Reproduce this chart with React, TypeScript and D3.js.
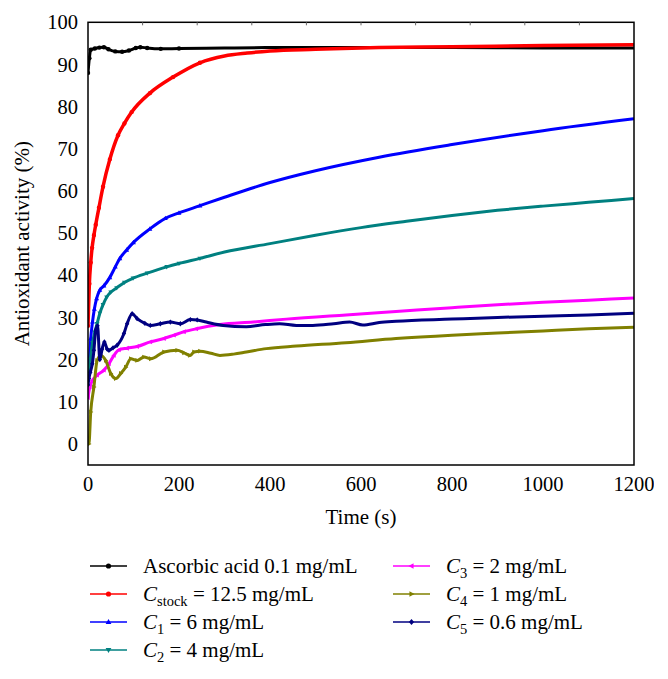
import React from "react";
import * as d3 from "d3";

// ---- data (time in s, antioxidant activity in %) ----
const ascorbicT = [0, 3, 6, 15, 25, 35, 45, 60, 75, 90, 105, 115, 130, 160, 200, 300, 400, 600, 800, 1000, 1200];
const ascorbicV = [88, 91.5, 93.5, 93.8, 94.0, 94.1, 93.6, 93.1, 93.0, 93.3, 93.9, 94.1, 93.9, 93.7, 93.8, 93.9, 94.0, 94.0, 94.0, 93.9, 93.9];

const stockT = [0, 3, 6, 9, 13, 17, 24, 33, 48, 66, 80, 96, 136, 187, 246, 300, 350, 400, 500, 640, 800, 1000, 1200];
const stockV = [28, 38, 43, 46.5, 49.5, 52, 56, 61, 67.5, 73.2, 76, 78.7, 83.2, 87, 90.4, 92, 92.7, 93.2, 93.6, 94.0, 94.2, 94.5, 94.7];

const c1T = [0, 3, 6, 10, 14, 19, 26, 35, 48, 60, 70, 85, 100, 136, 170, 200, 246, 300, 400, 500, 640, 800, 1000, 1200];
const c1V = [17, 20, 25, 29, 32, 34.5, 36.5, 37.5, 39.5, 42, 44, 46, 47.8, 51, 53.5, 54.8, 56.5, 58.5, 62, 64.8, 68, 71, 74.3, 77.1];

const c2T = [0, 5, 10, 15, 20, 26, 33, 41, 50, 63, 80, 99, 130, 173, 200, 246, 300, 400, 500, 600, 700, 800, 900, 1000, 1100, 1200];
const c2V = [16, 20, 24, 26.5, 28.5, 31, 33, 34.8, 36, 37, 38.3, 39.3, 40.5, 42, 42.8, 44, 45.5, 47.5, 49.5, 51.3, 52.8, 54.2, 55.4, 56.4, 57.3, 58.2];

const c3T = [0, 4, 9.5, 20, 35, 46, 57, 68, 86, 108, 137, 167, 189, 211, 238, 290, 363, 436, 567, 677, 800, 900, 1000, 1100, 1200];
const c3V = [11, 13.5, 15, 16.3, 17.5, 19, 21, 22.3, 22.7, 23.1, 24.2, 25, 25.8, 26.6, 27.3, 28.3, 28.9, 29.6, 30.6, 31.4, 32.3, 33, 33.6, 34.1, 34.6];

const c4T = [0, 2, 6, 13, 20, 28, 39, 50, 61, 72, 83, 94, 108, 123, 138, 167, 196, 211, 224, 233, 246, 270, 290, 320, 348, 392, 458, 567, 677, 800, 900, 1000, 1100, 1200];
const c4V = [0, 0, 7.6, 13.5, 19.8, 21, 19.8, 16.7, 15.5, 16.7, 18.2, 20.2, 19.8, 20.6, 20.2, 21.8, 22.2, 21.6, 21, 21.8, 22, 21.5, 21, 21.3, 21.8, 22.6, 23.2, 24, 25, 25.8, 26.3, 26.8, 27.3, 27.7];

const c5T = [0, 2, 5, 9.5, 13, 17, 21, 26, 31, 36, 42, 46, 55, 64, 79, 86, 97, 108, 125, 137, 159, 181, 203, 225, 240, 260, 297, 348, 390, 421, 458, 494, 540, 575, 604, 640, 677, 800, 900, 1000, 1100, 1200];
const c5V = [14, 15.5, 17, 19, 22.2, 27, 28, 20, 22.5, 24.2, 22.5, 22.2, 22.8, 23.4, 26.2, 28.5, 30.9, 29.7, 28.6, 28.1, 28.5, 28.9, 28.5, 29.5, 29.4, 28.9, 28.1, 27.8, 28.3, 28.5, 28.1, 28.1, 28.5, 28.9, 28.2, 28.8, 29.1, 29.6, 30, 30.3, 30.6, 31.0];

const xTicks = [0, 200, 400, 600, 800, 1000, 1200];
const yTicks = [0, 10, 20, 30, 40, 50, 60, 70, 80, 90, 100];
const minorTopTicks = [120, 240, 360, 480, 600, 720, 840, 960, 1080];

type Series = { key: string; t: number[]; v: number[]; color: string; sym: string; width: number };

const seriesList: Series[] = [
  { key: "asc", t: ascorbicT, v: ascorbicV, color: "#000000", sym: "circle", width: 3 },
  { key: "stock", t: stockT, v: stockV, color: "#ff0000", sym: "circle", width: 3.5 },
  { key: "c1", t: c1T, v: c1V, color: "#0000ff", sym: "triUp", width: 3 },
  { key: "c2", t: c2T, v: c2V, color: "#008080", sym: "triDown", width: 3 },
  { key: "c3", t: c3T, v: c3V, color: "#ff00ff", sym: "triLeft", width: 3 },
  { key: "c4", t: c4T, v: c4V, color: "#808000", sym: "triRight", width: 3 },
  { key: "c5", t: c5T, v: c5V, color: "#000080", sym: "diamond", width: 3 },
];

const FONT = '"Liberation Serif", "DejaVu Serif", "Times New Roman", serif';

function markerPath(sym: string, cx: number, cy: number, s: number) {
  switch (sym) {
    case "circle":
      return `M${cx - s},${cy}a${s},${s} 0 1,0 ${2 * s},0a${s},${s} 0 1,0 ${-2 * s},0Z`;
    case "triUp":
      return `M${cx},${cy - s * 1.2}L${cx + s * 1.1},${cy + s * 0.8}L${cx - s * 1.1},${cy + s * 0.8}Z`;
    case "triDown":
      return `M${cx},${cy + s * 1.2}L${cx + s * 1.1},${cy - s * 0.8}L${cx - s * 1.1},${cy - s * 0.8}Z`;
    case "triLeft":
      return `M${cx - s * 1.2},${cy}L${cx + s * 0.8},${cy - s * 1.1}L${cx + s * 0.8},${cy + s * 1.1}Z`;
    case "triRight":
      return `M${cx + s * 1.2},${cy}L${cx - s * 0.8},${cy - s * 1.1}L${cx - s * 0.8},${cy + s * 1.1}Z`;
    default:
      return `M${cx},${cy - s * 1.2}L${cx + s},${cy}L${cx},${cy + s * 1.2}L${cx - s},${cy}Z`;
  }
}

const txt = { fontFamily: FONT } as React.CSSProperties;

export default function App() {
  const W = 654;
  const H = 679;
  const left = 88, right = 634, top = 22.3, bottom = 465;

  const x = d3.scaleLinear().domain([0, 1200]).range([left, right]);
  const y = d3.scaleLinear().domain([-5, 100]).range([bottom, top]);

  const line = d3
    .line<[number, number]>()
    .x((d) => x(d[0]))
    .y((d) => y(d[1]))
    .curve(d3.curveMonotoneX);

  const legendRows = [
    { s: seriesList[0], col: 0, row: 0, label: [{ t: "Ascorbic acid 0.1 mg/mL" }] },
    { s: seriesList[1], col: 0, row: 1, label: [{ t: "C", it: true }, { t: "stock", sub: true }, { t: " = 12.5 mg/mL" }] },
    { s: seriesList[2], col: 0, row: 2, label: [{ t: "C", it: true }, { t: "1", sub: true }, { t: " = 6 mg/mL" }] },
    { s: seriesList[3], col: 0, row: 3, label: [{ t: "C", it: true }, { t: "2", sub: true }, { t: " = 4 mg/mL" }] },
    { s: seriesList[4], col: 1, row: 0, label: [{ t: "C", it: true }, { t: "3", sub: true }, { t: " = 2 mg/mL" }] },
    { s: seriesList[5], col: 1, row: 1, label: [{ t: "C", it: true }, { t: "4", sub: true }, { t: " = 1 mg/mL" }] },
    { s: seriesList[6], col: 1, row: 2, label: [{ t: "C", it: true }, { t: "5", sub: true }, { t: " = 0.6 mg/mL" }] },
  ];
  const colX = [90, 393];
  const rowY = [566, 594, 622, 650];

  return (
    <svg
      width={W}
      height={H}
      style={{ position: "absolute", left: 0, top: 0, background: "#fff", fontFamily: FONT }}
    >
      <rect x={0} y={0} width={W} height={H} fill="#fff" />
      <defs>
        <clipPath id="plotClip">
          <rect x={left} y={top} width={right - left} height={bottom - top} />
        </clipPath>
      </defs>

      {/* series */}
      <g clipPath="url(#plotClip)">
        {seriesList.map((s) => {
          const pts: [number, number][] = s.t.map((t, i) => [t, s.v[i]]);
          return (
            <g key={s.key}>
              <path d={line(pts) || ""} fill="none" stroke={s.color} strokeWidth={s.width} strokeLinejoin="round" />
              {pts
                .filter((p) => p[0] <= 250)
                .map((p, i) => (
                  <path key={i} d={markerPath(s.sym, x(p[0]), y(p[1]), 2.2)} fill={s.color} />
                ))}
            </g>
          );
        })}
      </g>

      {/* frame */}
      <rect x={left} y={top} width={right - left} height={bottom - top} fill="none" stroke="#000" strokeWidth={1.5} />
      {minorTopTicks.map((t) => (
        <line key={t} x1={x(t)} x2={x(t)} y1={top} y2={top + 3} stroke="#666" strokeWidth={1} />
      ))}

      {/* y ticks */}
      {yTicks.map((v) => (
        <text key={v} x={78} y={y(v)} dy="0.35em" textAnchor="end" fontSize={20.5} fill="#000" style={txt}>
          {v}
        </text>
      ))}
      {/* x ticks */}
      {xTicks.map((t) => (
        <text key={t} x={x(t)} y={491} textAnchor="middle" fontSize={20.5} fill="#000" style={txt}>
          {t}
        </text>
      ))}

      <text x={(left + right) / 2} y={524} textAnchor="middle" fontSize={21} fill="#000" style={txt}>
        Time (s)
      </text>
      <text
        transform={`translate(29,${(top + bottom) / 2}) rotate(-90)`}
        textAnchor="middle"
        fontSize={21}
        fill="#000"
        style={txt}
      >
        Antioxidant activity (%)
      </text>

      {/* legend */}
      {legendRows.map((r, i) => {
        const lx = colX[r.col];
        const ly = rowY[r.row];
        return (
          <g key={i}>
            <line x1={lx} x2={lx + 37} y1={ly} y2={ly} stroke={r.s.color} strokeWidth={1.5} />
            <path d={markerPath(r.s.sym, lx + 18.5, ly, 2.6)} fill={r.s.color} />
            <text x={lx + 53} y={ly + 7} fontSize={21} fill="#000" style={txt}>
              {r.label.map((p: any, j: number) => {
                if (p.sub)
                  return (
                    <tspan key={j} fontSize={14.5} dy={5}>
                      {p.t}
                    </tspan>
                  );
                const prevSub = j > 0 && (r.label[j - 1] as any).sub;
                return (
                  <tspan key={j} fontStyle={p.it ? "italic" : "normal"} dy={prevSub ? -5 : 0}>
                    {p.t}
                  </tspan>
                );
              })}
            </text>
          </g>
        );
      })}
    </svg>
  );
}
